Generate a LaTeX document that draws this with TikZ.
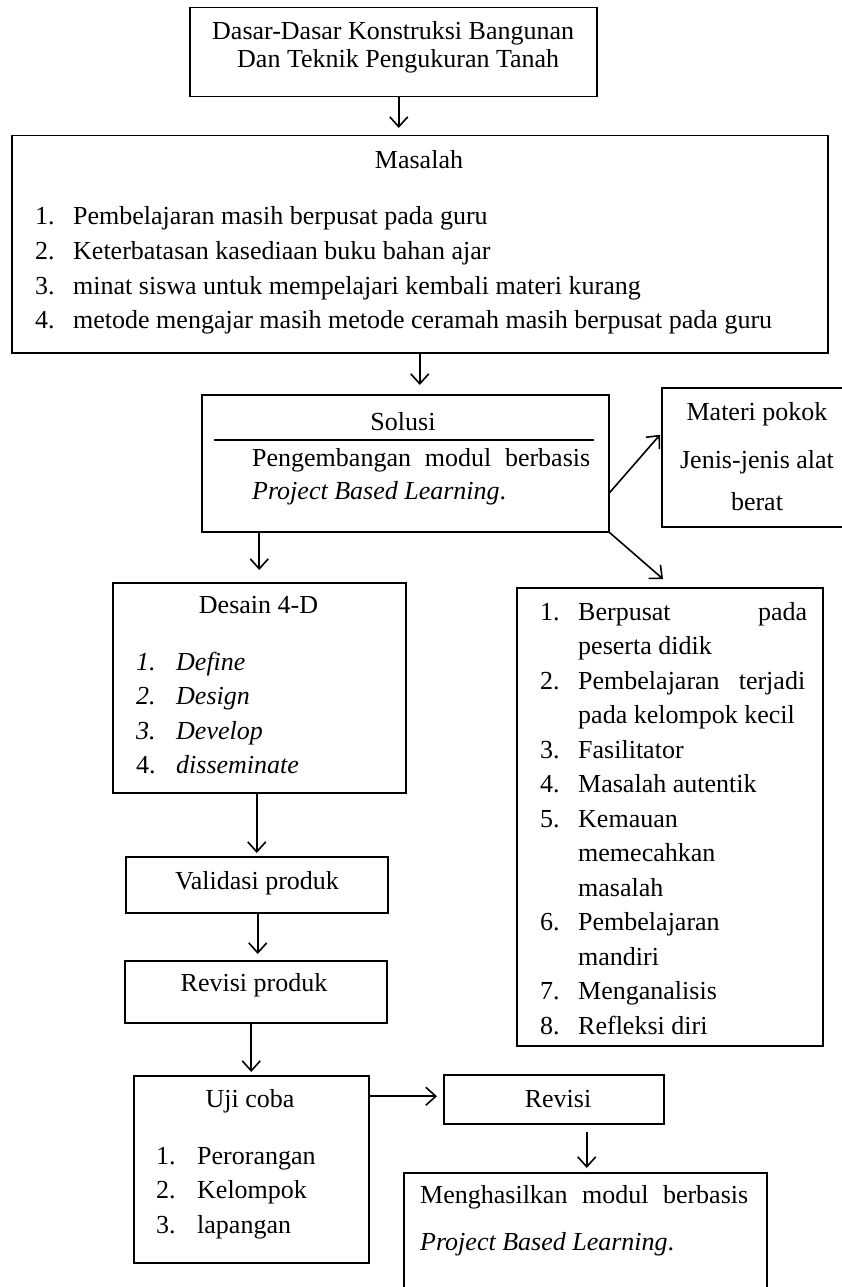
\documentclass[tikz,border=0pt]{standalone}
\usepackage{fontspec}
\setmainfont{Liberation Serif}
\usetikzlibrary{arrows.meta}
\tikzset{
  box/.style={draw, line width=1.5pt, inner sep=0pt, anchor=north west},
  txt/.style={inner sep=0pt, anchor=base west, font=\fontsize{26pt}{32pt}\selectfont},
  ctxt/.style={txt, anchor=base},
  arr/.style={line width=1.6pt, -{Straight Barb[length=10pt,width=18pt]}},
}
\begin{document}
\begin{tikzpicture}[x=1pt,y=-1pt]
\useasboundingbox[fill=white] (0,0) rectangle (841,1287);

% ---------- boxes ----------
\node[box, minimum width=407pt, minimum height=89pt]  (top)     at (189,7)   {};
\node[box, minimum width=816pt, minimum height=217pt] (masalah) at (11,135)  {};
\node[box, minimum width=407pt, minimum height=137pt] (solusi)  at (201,394) {};
\node[box, minimum width=200pt, minimum height=139pt] (materi)  at (661,387) {};
\node[box, minimum width=306pt, minimum height=458pt] (ciri)    at (516,587) {};
\node[box, minimum width=293pt, minimum height=210pt] (desain)  at (112,582) {};
\node[box, minimum width=262pt, minimum height=56pt]  (valid)   at (125,856) {};
\node[box, minimum width=262pt, minimum height=62pt]  (revprod) at (124,960) {};
\node[box, minimum width=235pt, minimum height=187pt] (uji)     at (133,1075) {};
\node[box, minimum width=220pt, minimum height=49pt]  (revisi)  at (443,1074) {};
\node[box, minimum width=363pt, minimum height=140pt] (hasil)   at (403,1172) {};

% ---------- texts ----------
\node[txt] (t1) at (212,40) {Dasar-Dasar Konstruksi Bangunan};
\node[txt] (t2) at (237,68) {Dan Teknik Pengukuran Tanah};

\node[ctxt] (mT) at (419,168) {Masalah};
\node[txt] (m1n) at (35,224) {1.};
\node[txt] (m1) at (73,224) {Pembelajaran masih berpusat pada guru};
\node[txt] (m2n) at (35,259) {2.};
\node[txt] (m2) at (73,259) {Keterbatasan kasediaan buku bahan ajar};
\node[txt] (m3n) at (35,294) {3.};
\node[txt] (m3) at (73,294) {minat siswa untuk mempelajari kembali materi kurang};
\node[txt] (m4n) at (35,328) {4.};
\node[txt] (m4) at (73,328) {metode mengajar masih metode ceramah masih berpusat pada guru};

\node[ctxt] (sT) at (403,430) {Solusi};
\draw[line width=1.2pt] (214,440) -- (594,440);
\node[txt] (s1) at (252,466) {\makebox[338pt][s]{Pengembangan modul berbasis}};
\node[txt] (s2) at (252,499) {\itshape Project Based Learning\/\upshape.};

\node[ctxt] (mp1) at (757,420) {Materi pokok};
\node[ctxt] (mp2) at (757,468) {Jenis-jenis alat};
\node[ctxt] (mp3) at (757,510) {berat};

\node[txt] (c1n) at (540,620)   {1.};
\node[txt] (c1)  at (578,620)   {\makebox[229pt][s]{Berpusat pada}};
\node[txt] (c1b) at (578,654.5) {peserta didik};
\node[txt] (c2n) at (540,689)   {2.};
\node[txt] (c2)  at (578,689)   {\makebox[227pt][s]{Pembelajaran terjadi}};
\node[txt] (c2b) at (578,723.5) {pada kelompok kecil};
\node[txt] (c3n) at (540,758)   {3.};
\node[txt] (c3)  at (578,758)   {Fasilitator};
\node[txt] (c4n) at (540,792.5) {4.};
\node[txt] (c4)  at (578,792.5) {Masalah autentik};
\node[txt] (c5n) at (540,827)   {5.};
\node[txt] (c5)  at (578,827)   {Kemauan};
\node[txt] (c5b) at (578,861.5) {memecahkan};
\node[txt] (c5c) at (578,896)   {masalah};
\node[txt] (c6n) at (540,930.5) {6.};
\node[txt] (c6)  at (578,930.5) {Pembelajaran};
\node[txt] (c6b) at (578,965)   {mandiri};
\node[txt] (c7n) at (540,999.5) {7.};
\node[txt] (c7)  at (578,999.5) {Menganalisis};
\node[txt] (c8n) at (540,1034)  {8.};
\node[txt] (c8)  at (578,1034)  {Refleksi diri};

\node[ctxt] (dT) at (258.5,613) {Desain 4-D};
\node[txt] (d1n) at (136,670)   {\itshape 1.};
\node[txt] (d1)  at (176,670)   {\itshape Define};
\node[txt] (d2n) at (136,704.5) {\itshape 2.};
\node[txt] (d2)  at (176,704.5) {\itshape Design};
\node[txt] (d3n) at (136,739)   {\itshape 3.};
\node[txt] (d3)  at (176,739)   {\itshape Develop};
\node[txt] (d4n) at (136,773.5) {4.};
\node[txt] (d4)  at (176,773.5) {\itshape disseminate};

\node[ctxt] (vT) at (257,889) {Validasi produk};
\node[ctxt] (rpT) at (254,991) {Revisi produk};

\node[ctxt] (uT) at (250,1107) {Uji coba};
\node[txt] (u1n) at (156,1164) {1.};
\node[txt] (u1)  at (197,1164) {Perorangan};
\node[txt] (u2n) at (156,1198) {2.};
\node[txt] (u2)  at (197,1198) {Kelompok};
\node[txt] (u3n) at (156,1233) {3.};
\node[txt] (u3)  at (197,1233) {lapangan};

\node[ctxt] (rT) at (558,1107) {Revisi};

\node[txt] (h1) at (420,1203) {\makebox[328pt][s]{Menghasilkan modul berbasis}};
\node[txt] (h2) at (420,1250) {\itshape Project Based Learning\/\upshape.};

% ---------- connectors ----------
\coordinate (c4end) at (663,579);
\draw[arr, shorten >=7pt] ([xshift=5.5pt]top.south) -- ([xshift=5.5pt]top.south |- masalah.north);
\draw[arr, shorten >=9pt] (masalah.south) -- (masalah.south |- solusi.north);
\draw[arr] ([yshift=-29.5pt]solusi.east) -- ([yshift=22.5pt,xshift=-1pt]materi.west);
\draw[arr] (solusi.south east) -- (c4end);
\draw[arr, shorten >=12pt] (desain.north |- solusi.south) -- (desain.north);
\draw[arr, shorten >=3pt] (valid.north |- desain.south) -- (valid.north);
\draw[arr, shorten >=6pt] ([xshift=2pt]revprod.north |- valid.south) -- ([xshift=2pt]revprod.north);
\draw[arr, shorten >=3pt] (uji.north |- revprod.south) -- (uji.north);
\draw[arr, shorten >=6pt] ([yshift=3pt]uji.east |- revisi.west) -- ([yshift=3pt]revisi.west);
\draw[arr, shorten <=7pt, shorten >=4pt] ([xshift=1.5pt]hasil.north |- revisi.south) -- ([xshift=1.5pt]hasil.north);
\end{tikzpicture}
\end{document}
